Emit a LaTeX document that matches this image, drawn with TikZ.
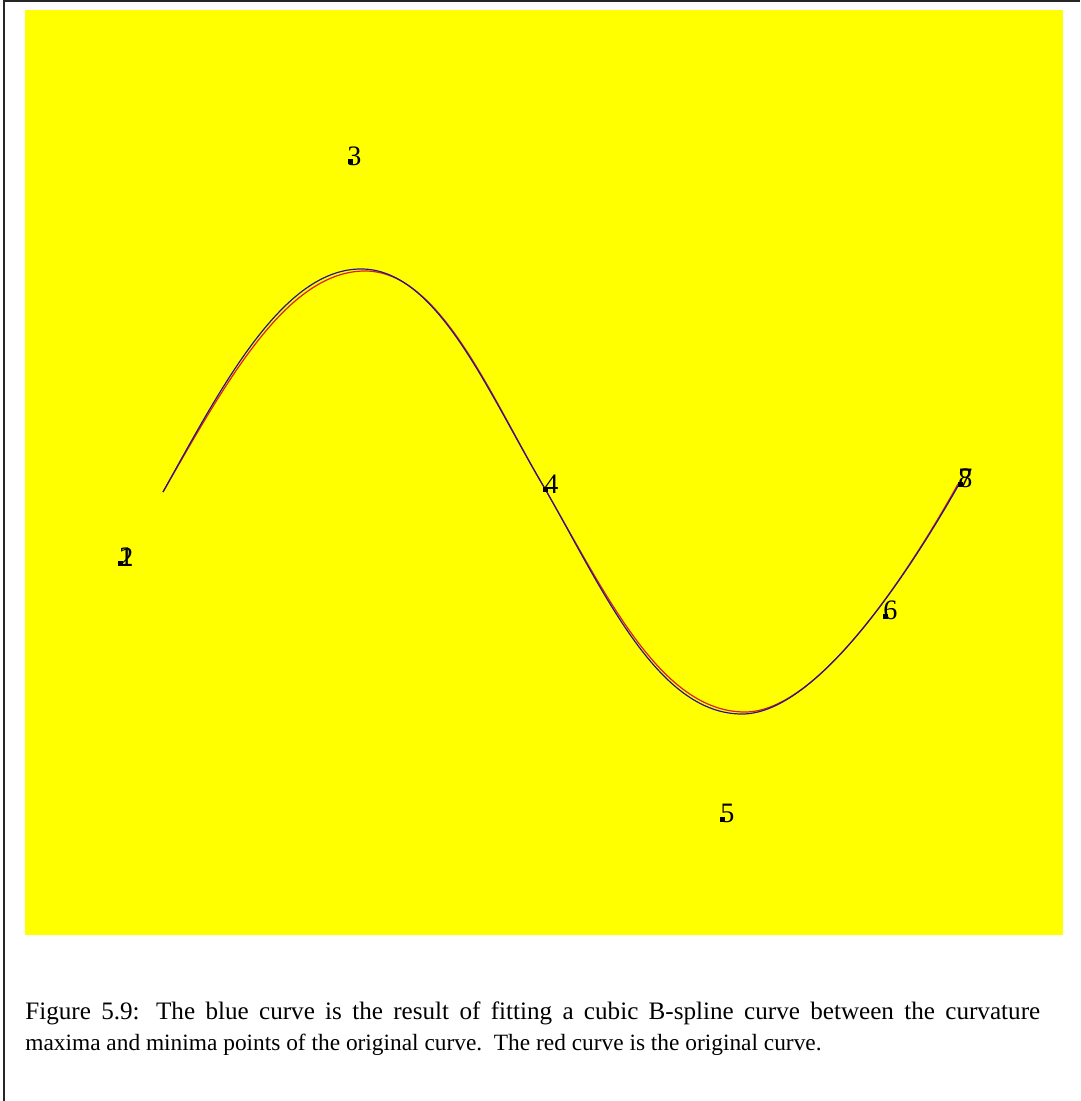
\documentclass[tikz,border=0pt]{standalone}
\usepackage{fontspec}
\setmainfont{Liberation Serif}
\definecolor{bgyellow}{RGB}{255,255,0}
\definecolor{origred}{RGB}{220,30,30}
\definecolor{fitblue}{RGB}{40,20,140}
\begin{document}
\begin{tikzpicture}[x=0.02cm,y=-0.02cm,
  ptmark/.style={fill=black,minimum size=5*0.02cm,inner sep=0pt,outer sep=0pt},
  ptlabel/.style={anchor=south west,inner sep=0pt,font=\fontsize{16}{16}\selectfont},
  captionline/.style={anchor=base west,inner sep=0pt,font=\fontsize{13.3}{16}\selectfont}]
\useasboundingbox (0,0) rectangle (1080,1101);
\fill[white] (0,0) rectangle (1080,1101);
\draw[line width=2*0.02cm,black!85] (4,1101) -- (4,1) -- (1080,1);
\fill[bgyellow] (25,10) rectangle (1063,935);
% original (red) curve
\draw[origred,line width=1.2*0.02cm] (163,492) .. controls (223,388) and (285,271) .. (365,271)
  .. controls (440,271) and (490,395) .. (545,489)
  .. controls (605,592) and (660,712) .. (745,712)
  .. controls (820,712) and (913,565) .. (958,484);
% fitted (blue) curve
\draw[fitblue,line width=1.2*0.02cm] (163,492) .. controls (222,386) and (283,268) .. (362,269)
  .. controls (438,270) and (488,393) .. (544,487)
  .. controls (603,590) and (657,714) .. (742,714)
  .. controls (818,714) and (912,567) .. (958,486);
% control points
\node[ptmark] (p12) at (120,563) {};
\node[ptmark] (p3) at (350,162) {};
\node[ptmark] (p4) at (545,489) {};
\node[ptmark] (p5) at (722,819) {};
\node[ptmark] (p6) at (885,616) {};
\node[ptmark] (p78) at (960,484) {};
\node[ptlabel] (l1) at (119,567) {1};
\node[ptlabel] (l2) at (119,567) {2};
\node[ptlabel] (l3) at (347,166) {3};
\node[ptlabel] (l4) at (544,494) {4};
\node[ptlabel] (l5) at (720,823) {5};
\node[ptlabel] (l6) at (883,620) {6};
\node[ptlabel] (l7) at (958,488) {7};
\node[ptlabel] (l8) at (958,488) {8};
% caption
\node[captionline,font=\fontsize{14.3}{16}\selectfont] (cap1) at (25,1019) {\makebox[20.3cm][s]{Figure 5.9: The blue curve is the result of fitting a cubic B-spline curve between the curvature}};
\node[captionline] (cap2) at (25,1050) {maxima and minima points of the original curve.\ \ The red curve is the original curve.};
\end{tikzpicture}
\end{document}
